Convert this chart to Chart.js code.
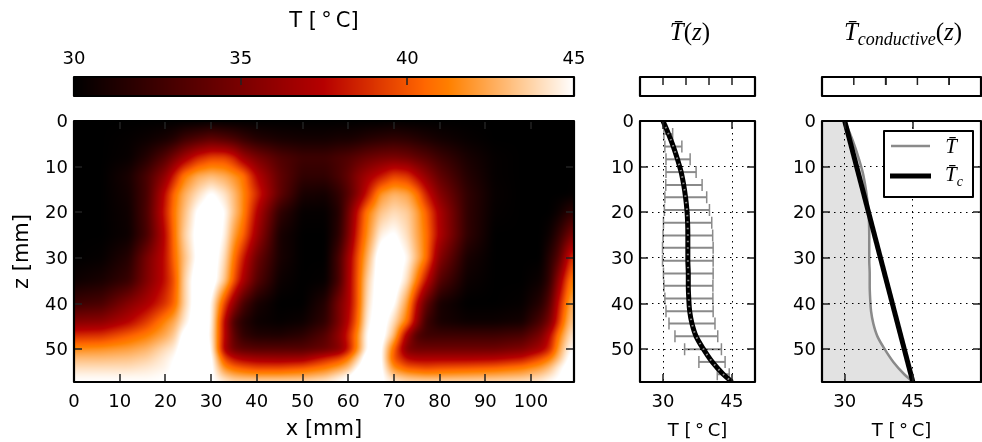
<!DOCTYPE html>
<html>
<head>
<meta charset="utf-8">
<script src="https://cdn.jsdelivr.net/npm/chart.js@4"></script>
<style>
  html, body { margin: 0; padding: 0; background: #fff; }
  #wrap { position: relative; width: 982px; height: 442px; overflow: hidden; }
  canvas { position: absolute; }
</style>
</head>
<body>
<div id="wrap">
  <canvas id="cb-main" width="648" height="100" style="left:0;top:0"></canvas>
  <canvas id="heat" width="648" height="342" style="left:0;top:100px"></canvas>
  <canvas id="mean" width="170" height="342" style="left:600px;top:100px"></canvas>
  <canvas id="cond" width="192" height="342" style="left:790px;top:100px"></canvas>
  <canvas id="cb-mean" width="170" height="100" style="left:600px;top:0"></canvas>
  <canvas id="cb-cond" width="192" height="100" style="left:790px;top:0"></canvas>
</div>
<script>
// temperature field [deg C], heatRows[i][j] is at heatZ[i], heatX[j]
const heatX = [0, 6, 12, 16, 20, 22, 24, 27, 30, 33, 35, 37, 40, 45, 50, 55, 58, 60, 62, 64, 67, 70, 73, 75, 77, 80, 86, 92, 98, 102, 104, 106, 108, 109.4];
const heatZ = [0, 4, 8, 12, 16, 20, 25, 30, 35, 40, 44, 47, 50, 52, 54, 56, 57.2];
const heatRows = [
  [30,30,30,30,30,30,30,30,30.1,30,30,30,30,30,30,30,30,30,30,30,30,30.1,30,30,30,30,30,30,30,30,30,30,30,30],
  [30,30,30.2,30.5,31,31.5,32.5,33.3,34,33.5,33,32.3,31.5,31,30.8,30.8,31,31,31.2,31.5,31.8,32,31.8,31.5,31.2,30.8,30.3,30,30,30,30,30,30,30],
  [30,30,30.3,31.5,33.5,35,36.5,38.5,39.5,39.5,38.5,36.5,35,33.3,32.5,32.5,33,33.3,33.8,34.3,34.8,35,34.6,34,33.5,32.5,31,30.2,30,30,30,30,30,30],
  [30,30,31,33,36,38.5,41,42.5,43,42.5,41.8,41,37.5,34,32,32,33,34,35.5,36.6,38,39.5,39,37.5,36,34,31.5,30.2,30,30,30,30,30,30],
  [30,30,30.8,33,38,40.8,42.5,44,45.2,44.2,43,41.5,38.8,34,31,30.8,32,33.5,35.5,38,41.8,42.8,42.3,41,38.5,35.5,32,30.3,30,30,30,30,30,30.2],
  [30,30,30.6,33.2,38.5,41.2,43,45.2,46,45,43.2,41.5,37.5,32,30.2,30.2,31.5,34.5,38,41,43.2,44,43.5,42.3,40.5,37,32,30.2,30,30,30,30.5,31.5,32],
  [30,30,30.5,33,37.8,41,43.5,45.5,46,44.7,42.2,40.5,36.5,31,30,30,31.8,35,38.8,41.5,44.6,45.2,44,42.5,41,37.2,32,30,30,30,30.5,32,34,35.5],
  [30,30.2,31.5,35,38,40.7,43,45.3,46,44,41,38.3,34.5,31,30,30,33,36.5,39.8,42.5,46,46,44.8,43,41,35.5,31,30,30,30,31.5,33.5,37.5,39.5],
  [30.5,31,32.3,35.3,38,40,43.5,46,46,43.3,40,37,33.5,30.5,30,30.2,33,36.8,40,43.5,46,46,44,41.2,38,33.5,30.5,30,30,30.5,32,36,40,41.5],
  [32.5,33,35.5,37,39,40.5,43.5,46,45,39.5,36,33,31,30,30,31.5,35,37,40,44,46,45.2,42,37.8,34,31,30,30,30.2,31.5,33.5,38,41.5,43],
  [35.5,35.8,37.5,39.3,41.5,42.5,44.3,46,45,37.5,33,31.5,30.5,30.2,30.5,32,35,37.5,40.5,44.5,46,44,40.8,36.5,32.5,31,30.5,30.5,30.8,33,35,39,42.5,43.5],
  [38.8,39,40.3,41.2,42.5,43.5,45.5,46,44.8,37.5,33.8,32,31.3,31.2,31.8,33.5,36,38.5,41.5,45,46,43,36.5,33.2,32.5,32.5,32.5,32.5,33,35,37.5,41,43.5,44.5],
  [41.6,41.8,42.2,42.8,44,44.5,46,46,45.2,37,34.5,33.8,33.5,33.5,33.5,34.3,35.5,38,41.5,45,45.6,40.5,35,34.5,34.5,34.5,34.5,34.5,35.2,36.8,38.5,42,44.5,45],
  [43,43,43.2,43.6,44.5,45,46,46,45.5,39.5,37.8,37,36.5,36.3,36.5,38.5,39.5,41,43.5,46,45.6,40,37.5,37,37,37,37,37.2,38,39.8,41,43,45,45.5],
  [44,44,44,44.3,44.7,45.2,46,46,45.5,41.5,40.5,40,39.5,39.5,40,41,42,43,45,46,45.6,41.5,40,39.8,39.5,39.8,40,40.3,41,42,43,44.5,45.5,45.5],
  [44.8,44.8,44.8,44.8,45,45.2,45.8,45.8,45.3,43.5,42.8,42.5,42.3,42.3,42.5,43.2,44.3,45,46,46,45.5,43.5,42.8,42.5,42.3,42.3,42.5,42.7,43,43.7,44.3,45,45.5,45.5],
  [45,45,45,45,45,45,45.5,45.5,45.2,44.5,44,44,44,44,44,44.5,45,45.2,45.5,45.5,45.2,44.5,44,44,44,44,44,44,44.2,44.5,45,45.2,45.5,45.5]
];

// horizontal mean profile
const meanZ = [0, 2.85, 5.6, 8.4, 11.2, 14, 16.7, 19.5, 22.3, 25.1, 27.8, 30.6, 33.4, 36.1, 38.9, 41.7, 44.4, 47.2, 50, 52.8, 55.5, 57.2];
const meanT = [30, 31.2, 32.25, 33.15, 33.95, 34.5, 34.9, 35.2, 35.35, 35.4, 35.4, 35.4, 35.5, 35.5, 35.6, 35.8, 36.3, 37.2, 38.8, 40.7, 43.1, 45];

// error bars around the mean
const errZ = [2.85, 5.6, 8.4, 11.2, 14, 16.7, 19.5, 22.3, 25.1, 27.8, 30.6, 33.4, 36.1, 38.9, 41.7, 44.4, 47.2, 50, 52.8, 55.5];
const errLow = [30.2, 30.4, 30.65, 30.65, 30.6, 30.4, 30.3, 30.1, 30, 29.9, 29.9, 30.1, 30.2, 30.4, 30.65, 31.3, 32.6, 34.7, 37.8, 41.8];
const errHigh = [32.1, 34.1, 35.9, 37.2, 38.5, 39.5, 40.1, 40.6, 40.8, 40.9, 40.9, 40.9, 40.85, 40.85, 40.9, 41.3, 41.9, 42.7, 43.5, 44.4];

// conductive profile
const condZ = [0, 57.2];
const condT = [30, 45];

// axes
const xTicks = [0, 10, 20, 30, 40, 50, 60, 70, 80, 90, 100];
const zTicks = [0, 10, 20, 30, 40, 50];
const cbTicks = [30, 35, 40, 45];
const tempTicks = [30, 45];
const miniTicks = [1, 2, 3, 4];
const legendLabels = ['T\u0304', 'T\u0304'];

// gist_heat colour stops: T, r, g, b
const cmapStops = [[30, 0, 0, 0], [37.5, 182, 0, 0], [40.5, 255, 102, 0], [41.25, 255, 128, 0], [45, 255, 255, 255]];

const SANS = "'DejaVu Sans'";
const SERIF = "'Liberation Serif'";
const tickFont = { family: SANS, size: 18 };
const DEG_LABEL = 'T [\u2009\u00b0\u2009C]';

Chart.defaults.animation = false;
Chart.defaults.responsive = false;
Chart.defaults.color = '#000';

function heatColor(t) {
  if (t <= cmapStops[0][0]) return cmapStops[0].slice(1);
  for (let i = 1; i < cmapStops.length; i++) {
    if (t <= cmapStops[i][0]) {
      const a = cmapStops[i - 1], b = cmapStops[i];
      const f = (t - a[0]) / (b[0] - a[0]);
      return [a[1] + (b[1] - a[1]) * f, a[2] + (b[2] - a[2]) * f, a[3] + (b[3] - a[3]) * f];
    }
  }
  return [255, 255, 255];
}

function segment(axis, v) {
  let i = 0;
  while (i < axis.length - 2 && v > axis[i + 1]) i++;
  const f = Math.max(0, Math.min(1, (v - axis[i]) / (axis[i + 1] - axis[i])));
  return [i, f];
}

// soften the coarse table the way the reference image is interpolated
function boxBlur(src, w, h, r) {
  const tmp = new Float32Array(src.length);
  for (let y = 0; y < h; y++) {
    for (let x = 0; x < w; x++) {
      let s = 0;
      for (let d = -r; d <= r; d++) s += src[y * w + Math.max(0, Math.min(w - 1, x + d))];
      tmp[y * w + x] = s / (2 * r + 1);
    }
  }
  for (let y = 0; y < h; y++) {
    for (let x = 0; x < w; x++) {
      let s = 0;
      for (let d = -r; d <= r; d++) s += tmp[Math.max(0, Math.min(h - 1, y + d)) * w + x];
      src[y * w + x] = s / (2 * r + 1);
    }
  }
}

// paints the table through the chart's scales
const heatPlugin = {
  id: 'heatField',
  beforeDatasetsDraw(chart) {
    const { ctx, chartArea: a, scales } = chart;
    const w = Math.round(a.right - a.left), h = Math.round(a.bottom - a.top);
    const field = new Float32Array(w * h);
    for (let py = 0; py < h; py++) {
      const [i, fz] = segment(heatZ, scales.y.getValueForPixel(a.top + py + 0.5));
      for (let px = 0; px < w; px++) {
        const [j, fx] = segment(heatX, scales.x.getValueForPixel(a.left + px + 0.5));
        field[py * w + px] = (heatRows[i][j] * (1 - fx) + heatRows[i][j + 1] * fx) * (1 - fz) +
                             (heatRows[i + 1][j] * (1 - fx) + heatRows[i + 1][j + 1] * fx) * fz;
      }
    }
    boxBlur(field, w, h, 3);
    boxBlur(field, w, h, 2);
    const off = document.createElement('canvas');
    off.width = w; off.height = h;
    const octx = off.getContext('2d');
    const img = octx.createImageData(w, h);
    for (let k = 0; k < w * h; k++) {
      const c = heatColor(field[k]);
      img.data[k * 4] = c[0]; img.data[k * 4 + 1] = c[1]; img.data[k * 4 + 2] = c[2]; img.data[k * 4 + 3] = 255;
    }
    octx.putImageData(img, 0, 0);
    ctx.drawImage(off, a.left, a.top);
  }
};

const colorbarPlugin = {
  id: 'colorbar',
  beforeDatasetsDraw(chart) {
    const { ctx, chartArea: a, scales } = chart;
    for (let px = Math.floor(a.left); px < a.right; px++) {
      const c = heatColor(scales.x.getValueForPixel(px + 0.5));
      ctx.fillStyle = `rgb(${c[0]},${c[1]},${c[2]})`;
      ctx.fillRect(px, a.top, 1, a.bottom - a.top);
    }
  }
};

const errorBarPlugin = {
  id: 'errorBars',
  beforeDatasetsDraw(chart) {
    const { ctx, scales } = chart;
    ctx.save();
    ctx.strokeStyle = '#8a8a8a';
    errZ.forEach((z, i) => {
      const y = scales.y.getPixelForValue(z);
      const x0 = scales.x.getPixelForValue(errLow[i]);
      const x1 = scales.x.getPixelForValue(errHigh[i]);
      ctx.lineWidth = 2;
      ctx.beginPath();
      ctx.moveTo(x0, y); ctx.lineTo(x1, y);
      ctx.stroke();
      ctx.lineWidth = 1.5;
      ctx.beginPath();
      ctx.moveTo(x0, y - 6); ctx.lineTo(x0, y + 6);
      ctx.moveTo(x1, y - 6); ctx.lineTo(x1, y + 6);
      ctx.stroke();
    });
    ctx.restore();
  }
};

// frame plus matplotlib style inward ticks
const framePlugin = {
  id: 'frame',
  afterDraw(chart, args, opts) {
    const { ctx, chartArea: a, scales } = chart;
    ctx.save();
    ctx.strokeStyle = '#222';
    ctx.lineWidth = 1.5;
    const len = 8;
    ctx.beginPath();
    scales.x.ticks.forEach(t => {
      const x = Math.round(scales.x.getPixelForValue(t.value));
      ctx.moveTo(x, a.top); ctx.lineTo(x, a.top + len);
      if (!opts.topOnly) { ctx.moveTo(x, a.bottom); ctx.lineTo(x, a.bottom - len); }
    });
    if (scales.y && !opts.topOnly) {
      scales.y.ticks.forEach(t => {
        const y = Math.round(scales.y.getPixelForValue(t.value));
        ctx.moveTo(a.left, y); ctx.lineTo(a.left + len, y);
        ctx.moveTo(a.right, y); ctx.lineTo(a.right - len, y);
      });
    }
    ctx.stroke();
    ctx.strokeStyle = '#000';
    ctx.lineWidth = 2.2;
    ctx.lineJoin = 'round';
    ctx.strokeRect(a.left, a.top, a.right - a.left, a.bottom - a.top);
    ctx.restore();
  }
};

// small run based text writer for the math labels
function drawRuns(ctx, cx, y, runs) {
  ctx.save();
  ctx.fillStyle = '#000';
  ctx.textBaseline = 'alphabetic';
  ctx.textAlign = 'left';
  const fontOf = r => `${r.italic ? 'italic ' : ''}${r.size}px ${SERIF}`;
  let total = 0;
  runs.forEach(r => { ctx.font = fontOf(r); total += ctx.measureText(r.text).width; });
  let x = cx - total / 2;
  runs.forEach(r => {
    ctx.font = fontOf(r);
    ctx.fillText(r.text, x, y + (r.dy || 0));
    x += ctx.measureText(r.text).width;
  });
  ctx.restore();
}

const mathTitlePlugin = {
  id: 'mathTitle',
  afterDraw(chart, args, opts) {
    drawRuns(chart.ctx, opts.cx, 40, opts.runs);
  }
};

const legendPlugin = {
  id: 'mathLegend',
  afterDraw(chart) {
    const { ctx } = chart;
    const left = 94, top = 31, w = 89, h = 66;
    ctx.save();
    ctx.fillStyle = '#fff';
    ctx.fillRect(left, top, w, h);
    ctx.strokeStyle = '#000';
    ctx.lineWidth = 2;
    ctx.lineJoin = 'round';
    ctx.strokeRect(left, top, w, h);
    ctx.lineWidth = 2.5;
    ctx.strokeStyle = '#8a8a8a';
    ctx.beginPath(); ctx.moveTo(left + 7, top + 15); ctx.lineTo(left + 46, top + 15); ctx.stroke();
    ctx.lineWidth = 5;
    ctx.strokeStyle = '#000';
    ctx.beginPath(); ctx.moveTo(left + 6, top + 45); ctx.lineTo(left + 47, top + 45); ctx.stroke();
    ctx.restore();
    drawRuns(ctx, left + 67, top + 22, [{ text: legendLabels[0], size: 21, italic: true }]);
    drawRuns(ctx, left + 70, top + 50, [
      { text: legendLabels[1], size: 21, italic: true },
      { text: 'c', size: 14, italic: true, dy: 5 }
    ]);
  }
};

function fixedTicks(values) {
  return scale => { scale.ticks = values.map(v => ({ value: v })); };
}

const dotted = { display: true, color: '#000', lineWidth: 1, drawTicks: false, z: 1 };
const dottedBorder = { display: false, dash: [1.5, 4.5] };

function xAxis(min, max, ticks, gridOn, labelled, labelSize) {
  return {
    type: 'linear', position: 'bottom', min, max,
    afterBuildTicks: fixedTicks(ticks),
    afterFit: s => { s.height = 60; },
    grid: gridOn ? dotted : { display: false, drawTicks: false },
    border: gridOn ? dottedBorder : { display: false },
    ticks: { font: tickFont, padding: 10, maxRotation: 0, autoSkip: false },
    title: { display: true, text: labelled, font: { family: SANS, size: labelSize }, padding: 0 }
  };
}

function zAxis(width, gridOn, title) {
  return {
    type: 'linear', position: 'left', reverse: true, min: 0, max: 57.2,
    afterBuildTicks: fixedTicks(zTicks),
    afterFit: s => { s.width = width; },
    grid: gridOn ? dotted : { display: false, drawTicks: false },
    border: gridOn ? dottedBorder : { display: false },
    ticks: { font: tickFont, padding: 6, autoSkip: false, labelOffset: 1.5 },
    title: title ? { display: true, text: title, font: { family: SANS, size: 21 }, padding: { top: 10, bottom: 0 } } : { display: false }
  };
}

function barAxis(min, max, ticks, height, title) {
  return {
    type: 'linear', position: 'top', min, max,
    afterBuildTicks: fixedTicks(ticks),
    afterFit: s => { s.height = height; },
    grid: { display: false, drawTicks: false },
    border: { display: false },
    ticks: { font: tickFont, padding: 7, maxRotation: 0, autoSkip: false },
    title: { display: true, text: title, font: { family: SANS, size: 21 }, padding: { top: 9, bottom: 0 } }
  };
}

// the two blank bars: no labels, tick marks are short line datasets
function blankBarAxis(max) {
  return {
    type: 'linear', position: 'top', min: 0, max,
    afterFit: s => { s.height = 77; },
    grid: { display: false, drawTicks: false },
    border: { display: false },
    ticks: { display: false }
  };
}

function blankBarMarks() {
  return miniTicks.map(v => ({
    data: [{ x: v, y: 1 }, { x: v, y: 0.58 }],
    showLine: true, borderColor: '#222', borderWidth: 1.5, pointRadius: 0
  }));
}

const hiddenY = () => ({ display: false, min: 0, max: 1 });

// colour bar above the field
new Chart(document.getElementById('cb-main'), {
  type: 'scatter',
  data: { datasets: [{ data: [] }] },
  options: {
    layout: { autoPadding: false, padding: { left: 74, right: 74, top: 0, bottom: 4 } },
    plugins: { legend: { display: false }, tooltip: { enabled: false }, frame: { topOnly: true } },
    scales: { x: barAxis(30, 45, cbTicks, 77, DEG_LABEL), y: hiddenY() }
  },
  plugins: [colorbarPlugin, framePlugin]
});

// temperature field
new Chart(document.getElementById('heat'), {
  type: 'scatter',
  data: { datasets: [{ data: [] }] },
  options: {
    layout: { autoPadding: false, padding: { left: 0, right: 74, top: 21, bottom: 0 } },
    plugins: { legend: { display: false }, tooltip: { enabled: false } },
    scales: { x: xAxis(0, 109.4, xTicks, false, 'x [mm]', 21), y: zAxis(74, false, 'z [mm]') }
  },
  plugins: [heatPlugin, framePlugin]
});

const meanPoints = meanZ.map((z, i) => ({ x: meanT[i], y: z }));
const condPoints = condZ.map((z, i) => ({ x: condT[i], y: z }));

// mean profile with its spread; first dataset ends up on top
new Chart(document.getElementById('mean'), {
  type: 'line',
  data: {
    datasets: [
      { data: meanPoints, borderColor: '#8a8a8a', borderWidth: 2, borderDash: [1.5, 5], pointRadius: 0, cubicInterpolationMode: 'monotone', fill: false },
      { data: meanPoints, borderColor: '#000', borderWidth: 5, pointRadius: 0, cubicInterpolationMode: 'monotone', fill: false }
    ]
  },
  options: {
    indexAxis: 'y',
    layout: { autoPadding: false, padding: { left: 0, right: 15, top: 21, bottom: 0 } },
    plugins: { legend: { display: false }, tooltip: { enabled: false } },
    scales: { x: xAxis(25, 50, tempTicks, true, DEG_LABEL, 18), y: zAxis(40, true) }
  },
  plugins: [errorBarPlugin, framePlugin]
});

// mean against conductive profile
new Chart(document.getElementById('cond'), {
  type: 'line',
  data: {
    datasets: [
      { data: condPoints, borderColor: '#000', borderWidth: 5, pointRadius: 0, fill: false },
      { data: meanPoints, borderColor: '#8a8a8a', borderWidth: 2.5, backgroundColor: '#e2e2e2', pointRadius: 0, cubicInterpolationMode: 'monotone', fill: { value: 25 } }
    ]
  },
  options: {
    indexAxis: 'y',
    layout: { autoPadding: false, padding: { left: 0, right: 1, top: 21, bottom: 0 } },
    plugins: { legend: { display: false }, tooltip: { enabled: false } },
    scales: { x: xAxis(25, 60, tempTicks, true, DEG_LABEL, 18), y: zAxis(32, true) }
  },
  plugins: [framePlugin, legendPlugin]
});

// empty bars above the two profiles
new Chart(document.getElementById('cb-mean'), {
  type: 'scatter',
  data: { datasets: blankBarMarks() },
  options: {
    layout: { autoPadding: false, padding: { left: 40, right: 15, top: 0, bottom: 4 } },
    plugins: {
      legend: { display: false }, tooltip: { enabled: false }, frame: { topOnly: true },
      mathTitle: { cx: 90, runs: [{ text: 'T\u0304', size: 25, italic: true }, { text: '(', size: 25 }, { text: 'z', size: 25, italic: true }, { text: ')', size: 25 }] }
    },
    scales: { x: blankBarAxis(5), y: hiddenY() }
  },
  plugins: [framePlugin, mathTitlePlugin]
});

new Chart(document.getElementById('cb-cond'), {
  type: 'scatter',
  data: { datasets: blankBarMarks() },
  options: {
    layout: { autoPadding: false, padding: { left: 32, right: 1, top: 0, bottom: 4 } },
    plugins: {
      legend: { display: false }, tooltip: { enabled: false }, frame: { topOnly: true },
      mathTitle: { cx: 113, runs: [{ text: 'T\u0304', size: 25, italic: true }, { text: 'conductive', size: 18, italic: true, dy: 5 }, { text: '(', size: 25 }, { text: 'z', size: 25, italic: true }, { text: ')', size: 25 }] }
    },
    scales: { x: blankBarAxis(5), y: hiddenY() }
  },
  plugins: [framePlugin, mathTitlePlugin]
});
</script>
</body>
</html>
